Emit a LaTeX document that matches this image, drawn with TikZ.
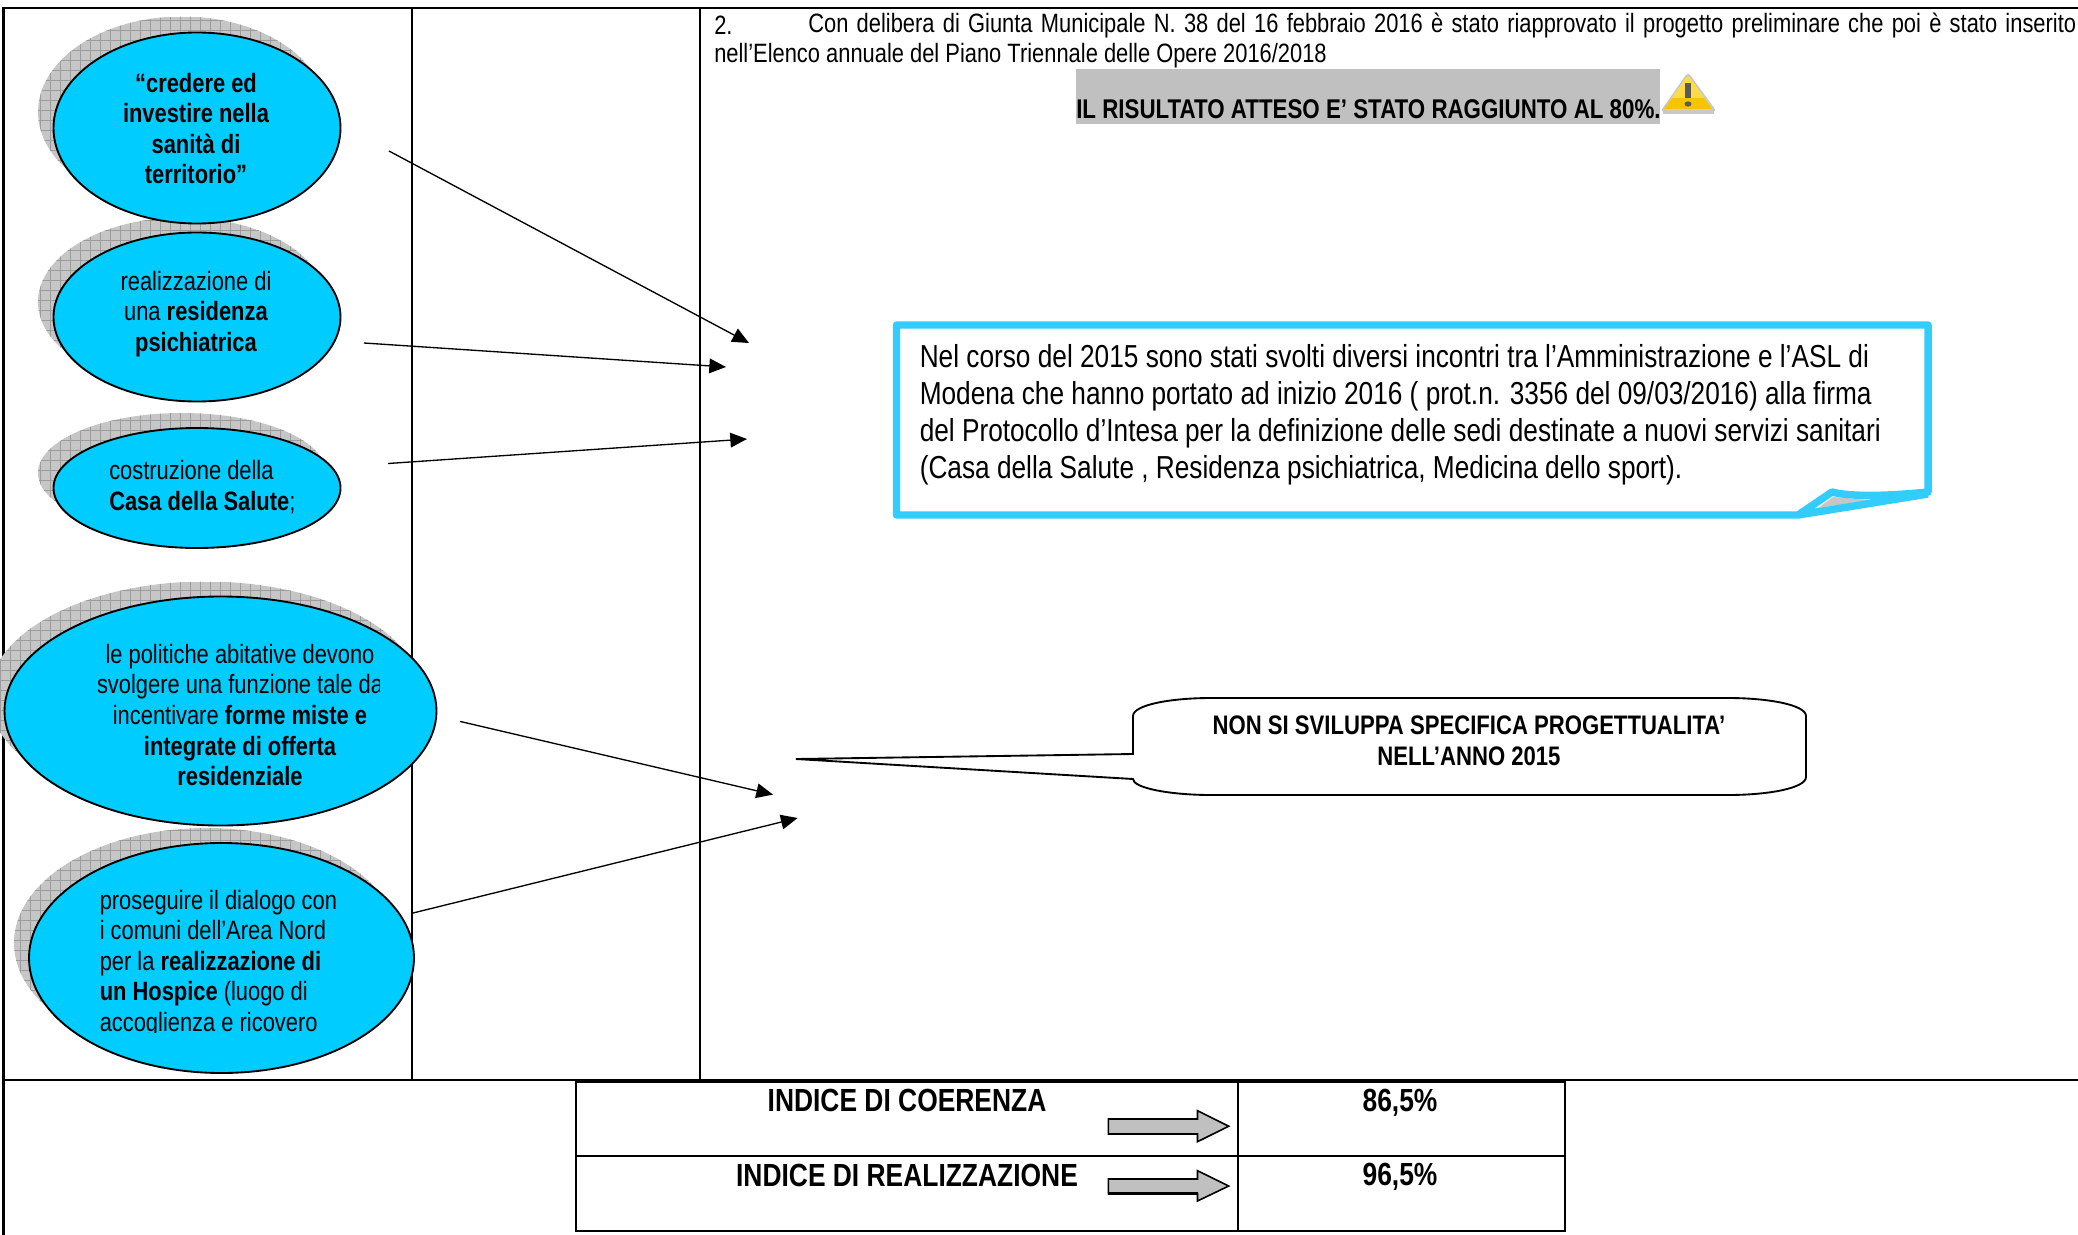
\documentclass[tikz,border=0pt]{standalone}
\usepackage{fontspec}
\setmainfont{Liberation Sans}[FakeStretch=0.825]
\usetikzlibrary{shapes.geometric,arrows.meta}
\definecolor{ellblue}{HTML}{00CCFF}
\definecolor{boxblue}{HTML}{33CCFF}
\definecolor{hlgray}{HTML}{C0C0C0}
\definecolor{shadowgray}{HTML}{C6C6C6}
\definecolor{gridgray}{HTML}{9C9C9C}
\definecolor{warnhi}{HTML}{FFDC45}
\definecolor{warnlo}{HTML}{F7C400}
\definecolor{warnedge}{HTML}{C8C8C8}
\newcommand{\fs}[2]{\fontsize{#1}{#2}\selectfont}
\newcommand{\shadowell}[4]{%
  \begin{scope}
    \clip (#1,#2) ellipse [x radius=#3, y radius=#4];
    \fill[shadowgray] (#1-#3,#2-#4) rectangle (#1+#3,#2+#4);
    \draw[gridline] (#1-#3-2,#2-#4-2) grid (#1+#3,#2+#4);
  \end{scope}}
\tikzset{
  x=0.75pt,y=-0.75pt,
  gridline/.style={gridgray,line width=0.3pt,xstep=7.5pt,ystep=7.5pt},
  frameline/.style={black,line width=1.5pt},
  bubble/.style={ellipse,draw=black,line width=1.4pt,fill=ellblue,inner sep=0pt},
  elltext/.style={inner sep=0pt,align=center,font=\fs{19.9}{22.9}},
  elltextl/.style={inner sep=0pt,align=left,font=\fs{19.9}{22.9}},
  body/.style={inner sep=0pt,font=\fs{19.9}{22}},
  bigtext/.style={inner sep=0pt,align=left,font=\fs{23.85}{27.7}},
  headtext/.style={inner sep=0pt,font=\fs{24}{28}\bfseries},
  calltext/.style={inner sep=0pt,align=center,font=\fs{20.1}{23.6}\bfseries},
  flow/.style={-{Triangle[length=12.5pt,width=11pt]},black,line width=1pt},
  blockarrow/.style={draw=black,fill=hlgray,line width=1.2pt,line join=miter},
  arrowedge/.style={black,line width=2.2pt},
}
\begin{document}
\begin{tikzpicture}
\useasboundingbox (0,0) rectangle (2078,1235);
% frame
\draw[black,line width=2pt] (3.7,1235) -- (3.7,8) -- (2078,8);
\draw[frameline] (412,8) -- (412,1080);
\draw[frameline] (700,8) -- (700,1080);
\draw[frameline] (3.7,1080) -- (2078,1080);
% top text
\node[body,anchor=west] (num) at (714,25) {2.};
\node[body,anchor=west] (line1) at (808,25.5) {\makebox[951pt][s]{Con delibera di Giunta Municipale N. 38 del 16 febbraio 2016 è stato riapprovato il progetto preliminare che poi è stato inserito}};
\node[body,anchor=west] (line2) at (714,56) {nell’Elenco annuale del Piano Triennale delle Opere 2016/2018};
\fill[hlgray] (1076,69) rectangle (1660,124);
\node[inner sep=0pt,anchor=west,font=\fs{20.3}{23}\bfseries] (result) at (1076,109) {IL RISULTATO ATTESO E’ STATO RAGGIUNTO AL 80\%.};
% warning icon
\fill[warnedge,rounded corners=3pt] (1688,72) -- (1717,112) -- (1660,112) -- cycle;
\fill[warnedge] (1663,110) rectangle (1714,114);
\fill[warnhi,rounded corners=2pt] (1688,75) -- (1713,110) -- (1663,110) -- cycle;
\fill[warnlo] (1672,98) -- (1704,98) -- (1712,109) -- (1664,109) -- cycle;
\fill[black!65] (1685,83) rectangle (1691,98);
\fill[black!65] (1688,104) ellipse [x radius=3.5,y radius=2.6];
% shadows
\shadowell{182}{112}{144}{95.5}
\shadowell{182}{302}{144}{84.5}
\shadowell{182}{473}{144}{60}
\shadowell{205.5}{696}{216.5}{114.5}
\shadowell{206.5}{943}{192.5}{115}
% bubbles
\node[bubble,minimum width=287*0.75pt,minimum height=191*0.75pt] (e1) at (197,128) {};
\node[bubble,minimum width=287*0.75pt,minimum height=169*0.75pt] (e2) at (197,317) {};
\node[bubble,minimum width=287*0.75pt,minimum height=120*0.75pt] (e3) at (197,488) {};
\node[bubble,minimum width=432*0.75pt,minimum height=229*0.75pt] (e4) at (220.5,711) {};
\node[bubble,minimum width=385*0.75pt,minimum height=230*0.75pt] (e5) at (221.5,958) {};
\node[elltext] (t1) at (196,128.5) {\bfseries “credere ed\\\bfseries investire nella\\\bfseries sanità di\\\bfseries territorio”};
\node[elltext] (t2) at (196,314) {realizzazione di\\una \textbf{residenza}\\\bfseries psichiatrica};
\node[elltextl,anchor=west] (t3) at (109,487) {costruzione della\\\textbf{Casa della Salute};};
\begin{scope}
  \clip (0,600) rectangle (379,830);
  \node[elltext] (t4) at (240,715) {le politiche abitative devono\\svolgere una funzione tale da\\incentivare \textbf{forme miste e}\\\bfseries integrate di offerta\\\bfseries residenziale};
\end{scope}
\begin{scope}
  \clip (0,850) rectangle (420,1032);
  \node[elltextl,anchor=west] (t5) at (99.5,963.5) {proseguire il dialogo con\\i comuni dell’Area Nord\\per la \textbf{realizzazione di}\\\textbf{un Hospice} (luogo di\\accoglienza e ricovero};
\end{scope}
% arrows
\coordinate (a1s) at (389,151); \coordinate (a1e) at (749,343);
\coordinate (a2s) at (364,343); \coordinate (a2e) at (726,367);
\coordinate (a3s) at (388,463.5); \coordinate (a3e) at (747,439);
\coordinate (a4s) at (460,721.4); \coordinate (a4e) at (773,794.6);
\coordinate (a5s) at (413,913); \coordinate (a5e) at (797.6,818);
\draw[flow] (a1s) -- (a1e);
\draw[flow] (a2s) -- (a2e);
\draw[flow] (a3s) -- (a3e);
\draw[flow] (a4s) -- (a4e);
\draw[flow] (a5s) -- (a5e);
% blue callout
\fill[white] (896.5,325) -- (1928,325) -- (1928,492) -- (1798,515) -- (896.5,515) -- cycle;
\fill[shadowgray] (1818,508) -- (1833,497) -- (1870,500) -- cycle;
\draw[boxblue,line width=5.6pt,line join=round] (1798,515) -- (896.5,515) -- (896.5,325) -- (1928,325) -- (1928,492) .. controls (1890,496) and (1850,497) .. (1832,492) -- (1798,515) -- (1928,494);
\node[bigtext,anchor=west] (bigbox) at (919.5,415) {Nel corso del 2015 sono stati svolti diversi incontri tra l’Amministrazione e l’ASL di\\Modena che hanno portato ad inizio 2016 ( prot.n. 3356 del 09/03/2016) alla firma\\del Protocollo d’Intesa per la definizione delle sedi destinate a nuovi servizi sanitari\\(Casa della Salute , Residenza psichiatrica, Medicina dello sport).};
% speech callout
\draw[black,line width=1.4pt,fill=white] (796,759) -- (1133,754) -- (1133,716) .. controls (1133,705) and (1170,698) .. (1211,698) -- (1728,698) .. controls (1769,698) and (1806,705) .. (1806,716) -- (1806,777) .. controls (1806,788) and (1769,795) .. (1728,795) -- (1211,795) .. controls (1170,795) and (1133,788) .. (1133,779) -- cycle;
\node[calltext] (call) at (1469,741) {NON SI SVILUPPA SPECIFICA PROGETTUALITA’\\NELL’ANNO 2015};
% bottom table
\draw[black,line width=1.5pt] (575.6,1082) rectangle (1565,1231);
\draw[black,line width=1.2pt] (575.6,1156) -- (1565,1156);
\draw[black,line width=1.2pt] (1238,1082) -- (1238,1231);
\node[headtext] (c1) at (907,1100) {INDICE DI COERENZA};
\node[headtext] (c2) at (907,1175) {INDICE DI REALIZZAZIONE};
\node[headtext] (v1) at (1400,1103) {86,5\%};
\node[headtext] (v2) at (1400,1177) {96,5\%};
\draw[blockarrow] (1108.4,1119) -- (1197.5,1119) -- (1197.5,1110.7) -- (1228.7,1126.2) -- (1197.5,1141.7) -- (1197.5,1134) -- (1108.4,1134) -- cycle;
\draw[arrowedge] (1108.4,1134) -- (1197.5,1134);
\draw[blockarrow] (1108.4,1179) -- (1197.5,1179) -- (1197.5,1170.7) -- (1228.7,1186) -- (1197.5,1201) -- (1197.5,1193.7) -- (1108.4,1193.7) -- cycle;
\draw[arrowedge] (1108.4,1193.7) -- (1197.5,1193.7);
\end{tikzpicture}
\end{document}
